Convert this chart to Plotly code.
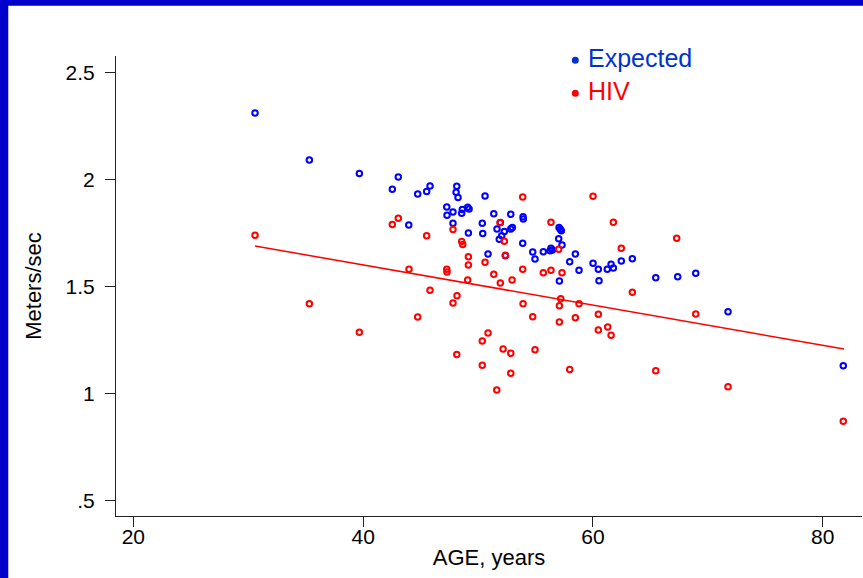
import plotly.graph_objects as go

# ---- data ----
expected_age = [30.59, 35.32, 39.67, 43.06, 42.54, 44.75, 45.53, 45.82, 48.15, 48.09,
                48.26, 50.61, 47.28, 47.30, 47.82, 48.58, 48.63, 49.10, 49.22, 43.97,
                47.82, 49.16, 50.37, 50.41, 51.37, 52.85, 51.65, 51.94, 52.29, 52.06,
                51.85, 52.85, 52.99, 53.92, 53.94, 53.89, 50.87, 52.38, 54.76, 54.96,
                55.68, 56.27, 56.35, 56.47, 57.05, 57.16, 57.25, 57.02, 57.31, 57.08,
                57.98, 58.47, 58.79, 60.01, 60.47, 60.53, 61.25, 61.58, 61.78, 62.47,
                63.43, 65.47, 67.38, 68.95, 71.76, 81.79]
expected_speed = [2.310, 2.091, 2.027, 2.011, 1.954, 1.932, 1.943, 1.969, 1.968, 1.940,
                  1.915, 1.922, 1.871, 1.832, 1.848, 1.842, 1.860, 1.870, 1.862, 1.787,
                  1.795, 1.750, 1.795, 1.747, 1.840, 1.837, 1.768, 1.799, 1.757, 1.737,
                  1.720, 1.768, 1.775, 1.826, 1.815, 1.702, 1.652, 1.644, 1.661, 1.628,
                  1.662, 1.667, 1.678, 1.670, 1.775, 1.767, 1.760, 1.723, 1.694, 1.526,
                  1.616, 1.652, 1.576, 1.608, 1.580, 1.527, 1.580, 1.604, 1.586, 1.619,
                  1.630, 1.541, 1.546, 1.562, 1.382, 1.130]

hiv_age = [30.59, 35.32, 39.67, 42.54, 43.06, 45.53, 43.99, 45.82, 44.75, 68.95,
           65.47, 71.76, 81.79, 49.10, 49.16, 49.16, 48.58, 48.67, 47.82, 47.28,
           47.30, 50.61, 51.37, 51.94, 52.96, 53.89, 53.89, 51.92, 52.29, 52.38,
           55.68, 56.35, 56.35, 57.02, 57.31, 60.01, 61.78, 67.29, 62.47, 48.17,
           47.82, 53.92, 54.76, 57.20, 57.08, 58.79, 58.47, 57.08, 60.47, 60.47,
           61.29, 61.58, 63.43, 50.87, 50.37, 48.15, 52.18, 52.85, 54.96, 50.37,
           52.85, 51.63, 57.98]
hiv_speed = [1.739, 1.420, 1.286, 1.789, 1.818, 1.737, 1.580, 1.482, 1.358, 1.372,
             1.107, 1.032, 0.871, 1.530, 1.639, 1.600, 1.710, 1.696, 1.766, 1.580,
             1.568, 1.613, 1.557, 1.516, 1.530, 1.580, 1.918, 1.798, 1.711, 1.646,
             1.564, 1.576, 1.800, 1.674, 1.564, 1.921, 1.800, 1.725, 1.678, 1.457,
             1.423, 1.420, 1.359, 1.443, 1.410, 1.420, 1.354, 1.334, 1.370, 1.297,
             1.311, 1.272, 1.473, 1.283, 1.246, 1.183, 1.208, 1.188, 1.205, 1.132,
             1.095, 1.017, 1.113]

fit_age = [30.59, 81.85]
fit_speed = [1.689, 1.208]

x_ticks = [20, 40, 60, 80]
y_ticks = [0.5, 1, 1.5, 2, 2.5]
y_tick_text = [".5", "1", "1.5", "2", "2.5"]
legend_names = ["Expected", "HIV"]

BLUE = "#0000FF"
RED = "#FF0000"
FONT = "Arial, Liberation Sans, Helvetica, sans-serif"

fig = go.Figure()
fig.add_trace(go.Scatter(
    x=expected_age, y=expected_speed, mode="markers", name=legend_names[0],
    marker=dict(symbol="circle-open", size=5.5, color=BLUE, line=dict(width=2, color=BLUE)),
))
fig.add_trace(go.Scatter(
    x=hiv_age, y=hiv_speed, mode="markers", name=legend_names[1],
    marker=dict(symbol="circle-open", size=5.5, color=RED, line=dict(width=2, color=RED)),
))
fig.add_trace(go.Scatter(
    x=fit_age, y=fit_speed, mode="lines", line=dict(color=RED, width=1.5),
    showlegend=False,
))

axis_common = dict(
    showgrid=False, zeroline=False, showline=True, linecolor="#222222", linewidth=1,
    ticks="outside", ticklen=10, tickwidth=1, tickcolor="#222222",
    tickfont=dict(family=FONT, size=21, color="black"),
)

fig.update_layout(
    width=863, height=578,
    margin=dict(l=116, r=1, t=56, b=62),
    paper_bgcolor="white", plot_bgcolor="white",
    showlegend=False,
    font=dict(family=FONT),
    xaxis=dict(
        range=[18.49, 83.42], tickvals=x_ticks, ticktext=[str(v) for v in x_ticks],
        title=dict(text="AGE, years", font=dict(family=FONT, size=22, color="black"), standoff=2),
        ticklabelstandoff=-8,
        **axis_common,
    ),
    yaxis=dict(
        range=[0.4286, 2.576], tickvals=y_ticks, ticktext=y_tick_text,
        title=dict(text="Meters/sec", font=dict(family=FONT, size=22, color="black"), standoff=17),
        ticklabelstandoff=6,
        **axis_common,
    ),
)

# legend drawn as text + dots, positioned in paper coordinates
leg = [(legend_names[0], "#0033CC", 0.995, 0.9907), (legend_names[1], RED, 0.9233, 0.919)]
for name, col, ty, dy in leg:
    fig.add_annotation(xref="paper", yref="paper", x=0.6295, y=ty, xanchor="left", yanchor="middle",
                       text=name, showarrow=False, font=dict(family=FONT, size=25, color=col))
    fig.add_shape(type="circle", xref="paper", yref="paper", xsizemode="pixel", ysizemode="pixel",
                  xanchor=0.6157, yanchor=dy, x0=-3.5, x1=3.5, y0=-3.5, y1=3.5,
                  fillcolor=col, line=dict(width=0))

# blue frame at left and top edges of the slide
fig.add_shape(type="rect", xref="paper", yref="paper", x0=-0.16, x1=-0.1444, y0=-0.2, y1=1.2,
              fillcolor="#0000CC", line=dict(width=0), layer="above")
fig.add_shape(type="rect", xref="paper", yref="paper", x0=-0.2, x1=1.1, y0=1.1091, y1=1.2,
              fillcolor="#0000CC", line=dict(width=0), layer="above")

fig.write_html("out.html")
